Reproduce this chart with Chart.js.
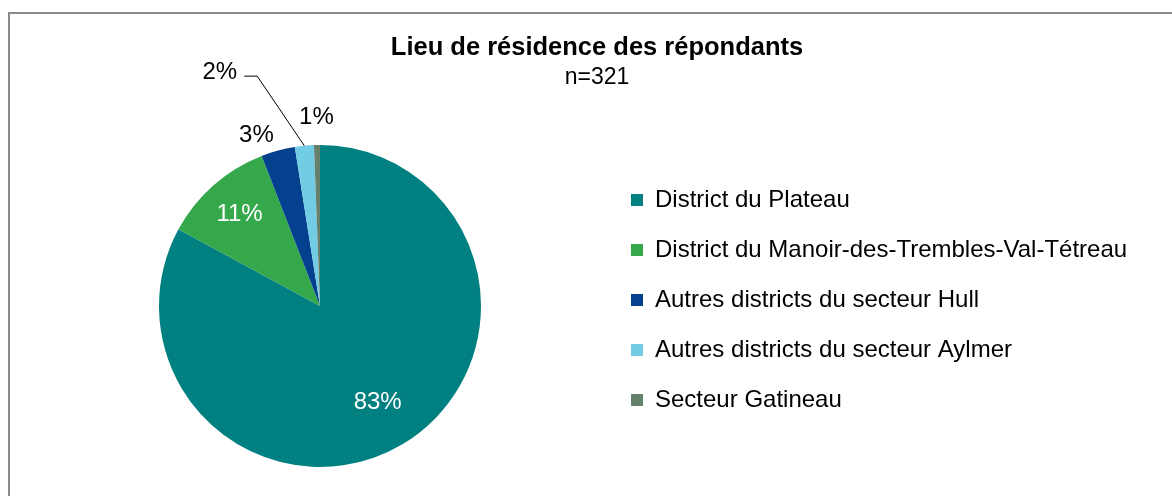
<!DOCTYPE html>
<html lang="fr">
<head>
<meta charset="utf-8">
<title>Lieu de résidence des répondants</title>
<script src="https://cdn.jsdelivr.net/npm/chart.js"></script>
<style>
  html, body { margin: 0; padding: 0; background: #fff; overflow: hidden; }
  #cadre { position: absolute; left: 8px; top: 12px; width: 1200px; height: 520px; border: 2px solid #8a8a8a; box-sizing: border-box; }
  #plot1 { position: absolute; left: 0; top: 0; }
</style>
</head>
<body>
<div id="cadre"></div>
<canvas id="plot1" width="1172" height="496"></canvas>
<script>
//Données du graphique
let categories = [
  'District du Plateau',
  'District du Manoir-des-Trembles-Val-Tétreau',
  'Autres districts du secteur Hull',
  'Autres districts du secteur Aylmer',
  'Secteur Gatineau'
];
let pourcentages = [82.9, 11.2, 3.4, 1.9, 0.6];
let couleurs = ['#008080', '#36a84c', '#03418e', '#72cde4', '#66806e'];
let titre = 'Lieu de résidence des répondants';
let sousTitre = 'n=321';

//Placement des étiquettes (distance en fraction du rayon)
let placements = [
  {dist: 0.70, couleur: '#fff', align: 'center'},
  {dist: 0.756, couleur: '#fff', align: 'center'},
  {dist: 1.10, couleur: '#000', align: 'right'},
  {dist: 1.48, decalage: -9.7, couleur: '#000', align: 'right', ligne: true},
  {dist: 1.17, couleur: '#000', align: 'center'}
];

let police = '"Liberation Sans", Arial, sans-serif';
let taille = 24;
let pad = 26;

//Largeur de la légende pour caler la zone du graphique
let mesure = document.createElement('canvas').getContext('2d');
mesure.font = taille + 'px ' + police;
let largeurMax = Math.max(...categories.map(c => mesure.measureText(c).width));
let largeurLegende = pad + (12 + taille / 2 + largeurMax) + 10;
let droite = 1172 - (605 + largeurLegende);

let etiquettes = {
  id: 'etiquettes',
  afterDatasetsDraw(chart) {
    let ctx = chart.ctx;
    let meta = chart.getDatasetMeta(0);
    let total = pourcentages.reduce((a, b) => a + b, 0);
    ctx.save();
    ctx.font = taille + 'px ' + police;
    ctx.textBaseline = 'middle';
    meta.data.forEach((arc, i) => {
      let p = placements[i];
      let mid = (arc.startAngle + arc.endAngle) / 2;
      let ang = mid + (p.decalage || 0) * Math.PI / 180;
      let r = arc.outerRadius;
      let x = arc.x + Math.cos(ang) * r * p.dist;
      let y = arc.y + Math.sin(ang) * r * p.dist;
      let texte = Math.round(pourcentages[i] / total * 100) + '%';
      ctx.fillStyle = p.couleur;
      if (p.ligne) {
        //Ligne de rappel
        ctx.strokeStyle = '#000';
        ctx.lineWidth = 1;
        ctx.beginPath();
        ctx.moveTo(arc.x + Math.cos(mid) * r, arc.y + Math.sin(mid) * r);
        ctx.lineTo(x, y);
        ctx.lineTo(x - 13, y);
        ctx.stroke();
        ctx.textAlign = 'right';
        ctx.fillText(texte, x - 20, y - 4);
      } else {
        ctx.textAlign = p.align;
        ctx.fillText(texte, x, y);
      }
    });
    ctx.restore();
  }
};

let titres = {
  id: 'titres',
  afterDraw(chart) {
    let ctx = chart.ctx;
    ctx.save();
    ctx.fillStyle = '#000';
    ctx.textAlign = 'center';
    ctx.textBaseline = 'middle';
    ctx.font = 'bold 25.5px ' + police;
    ctx.fillText(titre, 597, 48);
    ctx.font = '23px ' + police;
    ctx.fillText(sousTitre, 597, 78);
    ctx.restore();
  }
};

let config = {
  type: 'pie',
  data: {
    labels: categories,
    datasets: [{
      data: pourcentages,
      backgroundColor: couleurs,
      borderWidth: 0,
      radius: 161
    }]
  },
  options: {
    responsive: false,
    animation: false,
    devicePixelRatio: 1,
    layout: { padding: { top: 162, bottom: 46, left: 35, right: droite } },
    plugins: {
      tooltip: { enabled: false },
      legend: {
        position: 'right',
        align: 'start',
        labels: {
          boxWidth: 12,
          boxHeight: 12,
          padding: pad,
          color: '#000',
          font: { size: taille, family: police }
        }
      }
    }
  },
  plugins: [etiquettes, titres]
};

let chart1 = new Chart(document.getElementById('plot1'), config);
</script>
</body>
</html>
